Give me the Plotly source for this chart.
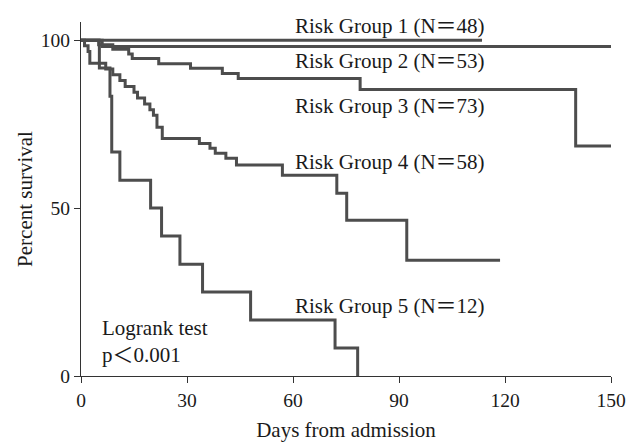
import plotly.graph_objects as go

# ---- data ----
group_names = ["Risk Group 1 (N＝48)", "Risk Group 2 (N＝53)", "Risk Group 3 (N＝73)",
               "Risk Group 4 (N＝58)", "Risk Group 5 (N＝12)"]

g1_days = [0, 113.5]
g1_surv = [100, 100]

g2_days = [0, 6, 150]
g2_surv = [100, 98.1, 98.1]

g3_days = [0, 5, 9, 13.5, 14.5, 22, 31, 40, 44.5, 79, 140, 150]
g3_surv = [100, 98.6, 97.3, 95.9, 94.5, 93.0, 91.6, 90.1, 88.6, 85.3, 68.5, 68.5]

g4_days = [0, 1, 2, 2.5, 7, 9, 11, 12.5, 15, 16, 18, 19.5, 20.5, 21.5, 23,
           33.5, 36.5, 38, 41, 44, 57, 72.4, 75.2, 92.2, 118.6]
g4_surv = [100, 98.3, 96.6, 93.1, 91.4, 89.7, 88.0, 86.2, 84.5, 82.8, 81.0, 79.3,
           77.6, 74.1, 70.7, 69.2, 67.8, 66.3, 64.8, 62.8, 59.8, 54.4, 46.4, 34.5, 34.5]

g5_days = [0, 5.2, 8.2, 8.7, 11, 19.7, 22.8, 28, 34.4, 48, 71.9, 78.3]
g5_surv = [100, 91.7, 83.3, 66.7, 58.3, 50, 41.7, 33.3, 25, 16.7, 8.3, 0]

label_y = [104.2, 93.8, 80.4, 63.7, 20.8]
label_x = 60

x_ticks = [0, 30, 60, 90, 120, 150]
y_ticks = [0, 50, 100]

FONT = "Liberation Serif, Times New Roman, Noto Sans CJK JP, serif"
LINE = "#4d4d4d"
TXT = "#1a1a1a"

fig = go.Figure()
for d, s in [(g1_days, g1_surv), (g2_days, g2_surv), (g3_days, g3_surv),
             (g4_days, g4_surv), (g5_days, g5_surv)]:
    fig.add_trace(go.Scatter(x=d, y=s, mode="lines", line=dict(shape="hv", color=LINE, width=3),
                             showlegend=False, hoverinfo="skip"))

for name, yy in zip(group_names, label_y):
    fig.add_annotation(x=label_x, y=yy, text=name, showarrow=False, xanchor="left",
                       yanchor="middle", font=dict(family=FONT, size=21, color=TXT))

fig.add_annotation(x=5.5, y=14.3, text="Logrank test", showarrow=False, xanchor="left",
                   yanchor="middle", font=dict(family=FONT, size=21, color=TXT))
fig.add_annotation(x=5.5, y=6.2, text="p＜0.001", showarrow=False, xanchor="left",
                   yanchor="middle", font=dict(family=FONT, size=21, color=TXT))

fig.update_layout(
    width=637, height=442,
    margin=dict(l=81, r=26, t=22, b=66, autoexpand=False),
    plot_bgcolor="white", paper_bgcolor="white",
    font=dict(family=FONT, size=19.5, color=TXT),
)
fig.update_xaxes(range=[0, 150], tickvals=x_ticks, ticks="outside", ticklen=6,
                 tickcolor="#333", showline=True, linecolor="#333", linewidth=1.3,
                 showgrid=False, zeroline=False, automargin=False,
                 title=dict(text="Days from admission", standoff=20,
                            font=dict(family=FONT, size=21)))
fig.update_yaxes(range=[0, 105.4], tickvals=y_ticks, ticks="outside", ticklen=6,
                 tickcolor="#333", showline=True, linecolor="#333", linewidth=1.3,
                 showgrid=False, zeroline=False, automargin=False,
                 title=dict(text="Percent survival", standoff=2,
                            font=dict(family=FONT, size=21)))

fig.write_html("out.html", config={"displayModeBar": False},
               post_script="document.body.style.margin='0';document.body.style.overflow='hidden';")
